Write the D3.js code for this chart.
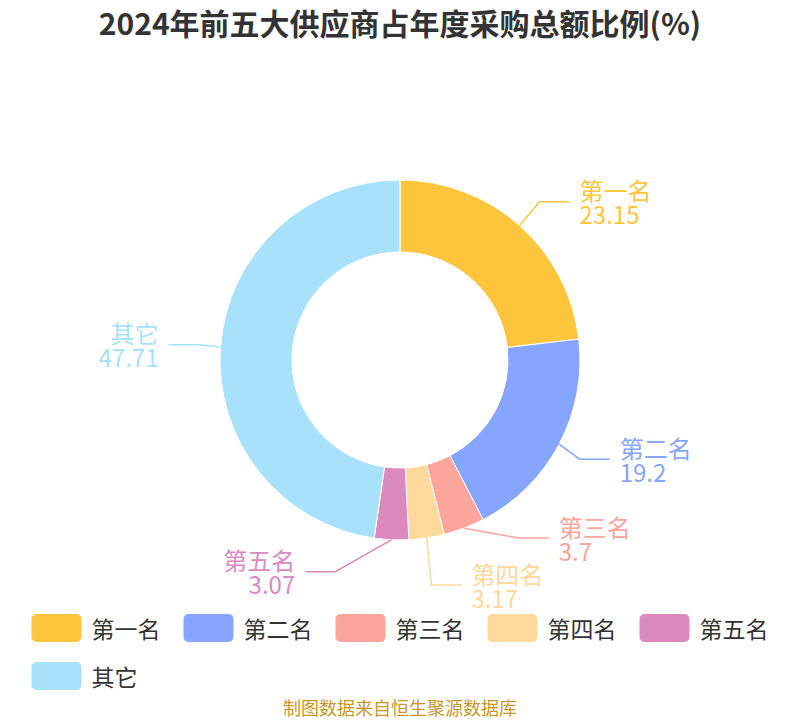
<!DOCTYPE html>
<html>
<head>
<meta charset="utf-8">
<script src="https://cdn.jsdelivr.net/npm/d3@7"></script>
<style>
    body { margin: 0; background: #fff; }
    text { font-family: "Noto Sans CJK SC", "Noto Sans", sans-serif; }
</style>
</head>
<body>
<div id="chart"></div>
<script>
// data
const chartTitle = "2024年前五大供应商占年度采购总额比例(%)";
const sourceNote = "制图数据来自恒生聚源数据库";
const categories = ["第一名", "第二名", "第三名", "第四名", "第五名", "其它"];
const shares = [23.15, 19.2, 3.7, 3.17, 3.07, 47.71];
const sliceColors = ["#ffc53d", "#85a5ff", "#fba59b", "#ffd99b", "#dc89bf", "#a8e1fa"];

class DonutChart {

    constructor(parentElement, labels, values, colors) {
        this.parentElement = parentElement;
        this.data = labels.map((d, i) => ({name: d, value: values[i], color: colors[i]}));
        this.width = 800;
        this.height = 720;
    }

    initVis() {
        let vis = this;

        vis.cx = 400;
        vis.cy = 360;
        vis.outer = 180;
        vis.inner = 108;

        vis.svg = d3.select("#" + vis.parentElement).append("svg")
            .attr("width", vis.width)
            .attr("height", vis.height);

        vis.svg.append("text")
            .attr("x", vis.width / 2)
            .attr("y", 22)
            .attr("text-anchor", "middle")
            .attr("dominant-baseline", "central")
            .attr("font-size", 30)
            .attr("font-weight", "bold")
            .attr("fill", "#333")
            .text(chartTitle);

        vis.svg.append("text")
            .attr("x", vis.width / 2)
            .attr("y", 707)
            .attr("text-anchor", "middle")
            .attr("dominant-baseline", "central")
            .attr("font-size", 18)
            .attr("fill", "#c9962b")
            .text(sourceNote);

        vis.pie = d3.pie().sort(null).value(d => d.value);
        vis.arc = d3.arc().innerRadius(vis.inner).outerRadius(vis.outer);

        vis.g = vis.svg.append("g")
            .attr("transform", `translate(${vis.cx},${vis.cy})`);

        vis.updateVis();
        vis.drawLegend();
    }

    updateVis() {
        let vis = this;
        let arcs = vis.pie(vis.data);

        vis.g.selectAll("path.slice")
            .data(arcs)
            .enter().append("path")
            .attr("class", "slice")
            .attr("d", vis.arc)
            .attr("fill", d => d.data.color)
            .attr("stroke", "#fff")
            .attr("stroke-width", 1);

        // label layout (outside labels with two segment guide lines)
        let len = 32, len2 = 30, ring = 232, boxH = 47, maxY = 585;
        let labels = arcs.map(a => {
            let mid = (a.startAngle + a.endAngle) / 2;
            let dx = Math.sin(mid), dy = -Math.cos(mid);
            let dir = dx >= 0 ? 1 : -1;
            return {
                d: a.data, dir: dir,
                x0: vis.cx + vis.outer * dx, y0: vis.cy + vis.outer * dy,
                x: vis.cx + (vis.outer + len) * dx + dir * len2,
                y: vis.cy + (vis.outer + len) * dy
            };
        });

        [1, -1].forEach(side => {
            let list = labels.filter(l => l.dir === side).sort((a, b) => a.y - b.y);
            for (let i = 1; i < list.length; i++) {
                if (list[i].y - list[i - 1].y < boxH) list[i].y = list[i - 1].y + boxH;
            }
            let last = list[list.length - 1];
            if (last && last.y > maxY) {
                last.y = maxY;
                for (let i = list.length - 2; i >= 0; i--) {
                    if (list[i + 1].y - list[i].y < boxH) list[i].y = list[i + 1].y - boxH;
                }
            }
            list.forEach(l => {
                let dY = Math.abs(l.y - vis.cy);
                if (dY < vis.outer + len) {
                    l.x = vis.cx + side * Math.sqrt(ring * ring - dY * dY);
                }
            });
        });

        let lg = vis.svg.append("g").attr("class", "labels");

        lg.selectAll("polyline")
            .data(labels)
            .enter().append("polyline")
            .attr("points", l => [[l.x0, l.y0], [l.x - l.dir * len2, l.y], [l.x, l.y]].join(" "))
            .attr("fill", "none")
            .attr("stroke", l => l.d.color)
            .attr("stroke-width", 1.5);

        let txt = lg.selectAll("text")
            .data(labels)
            .enter().append("text")
            .attr("text-anchor", l => l.dir > 0 ? "start" : "end")
            .attr("font-size", 24)
            .attr("fill", l => l.d.color);

        txt.append("tspan")
            .attr("x", l => l.x + l.dir * 10)
            .attr("y", l => l.y - 12)
            .attr("dominant-baseline", "central")
            .text(l => l.d.name);

        txt.append("tspan")
            .attr("x", l => l.x + l.dir * 10)
            .attr("y", l => l.y + 12)
            .attr("dominant-baseline", "central")
            .text(l => l.d.value);
    }

    drawLegend() {
        let vis = this;
        let boxW = 50, boxH = 28, gapText = 10, gapItem = 23, rowH = 48, maxW = 760;

        let legend = vis.svg.append("g").attr("class", "legend");
        let items = legend.selectAll("g.item")
            .data(vis.data)
            .enter().append("g")
            .attr("class", "item");

        items.append("rect")
            .attr("width", boxW).attr("height", boxH)
            .attr("y", -boxH / 2)
            .attr("rx", 5).attr("ry", 5)
            .attr("fill", d => d.color);

        items.append("text")
            .attr("x", boxW + gapText)
            .attr("dominant-baseline", "central")
            .attr("font-size", 23)
            .attr("fill", "#333")
            .text(d => d.name);

        // wrap into rows
        let rows = [[]], rowW = [0];
        items.each(function(d) {
            let w = boxW + gapText + d3.select(this).select("text").node().getComputedTextLength();
            let r = rows.length - 1;
            let need = rows[r].length ? rowW[r] + gapItem + w : w;
            if (need > maxW && rows[r].length) {
                rows.push([]); rowW.push(0); r++;
                need = w;
            }
            rows[r].push({node: this, x: rowW[r] ? rowW[r] + gapItem : 0});
            rowW[r] = need;
        });

        let left = (vis.width - d3.max(rowW)) / 2;
        rows.forEach((row, ri) => {
            row.forEach(it => {
                d3.select(it.node).attr("transform", `translate(${left + it.x},${628 + ri * rowH})`);
            });
        });
    }
}

let donut = new DonutChart("chart", categories, shares, sliceColors);
donut.initVis();
</script>
</body>
</html>
